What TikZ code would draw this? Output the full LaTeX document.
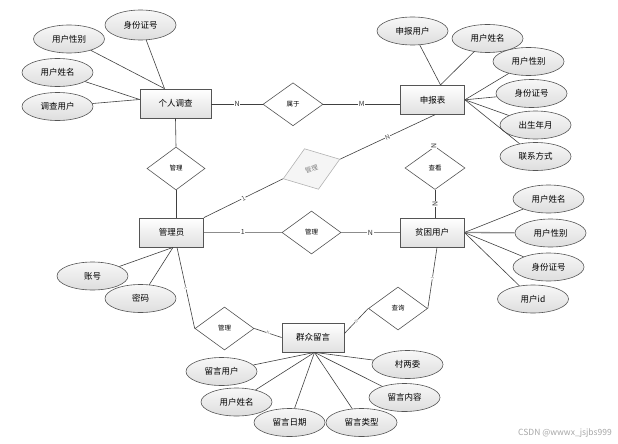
\documentclass[tikz,border=0pt]{standalone}
\usepackage{fontspec}
\setmainfont{Noto Sans CJK SC}
\usetikzlibrary{shapes.geometric,calc}
\definecolor{edge}{HTML}{555555}
\tikzset{
  ent/.style={draw=edge, line width=0.8pt, top color=white, bottom color=black!12,
    minimum width=64pt, minimum height=29pt, inner sep=0pt, font=\fontsize{8.5}{9}\selectfont},
  attr/.style={ellipse, draw=edge, line width=0.6pt, top color=black!3, bottom color=black!13,
    minimum width=71pt, minimum height=28pt, inner sep=0pt, font=\fontsize{8.5}{9}\selectfont},
  rel/.style={diamond, draw=edge, line width=0.6pt, fill=white,
    minimum width=60pt, minimum height=43pt, inner sep=0pt, font=\fontsize{6.5}{7}\selectfont},
  grel/.style={rel, draw=black!30, fill=black!4, text=black!50},
  ln/.style={draw=black!75, line width=0.6pt},
  thk/.style={draw=black!45, line width=1.3pt},
  card/.style={fill=white, inner sep=0.6pt, font=\fontsize{7}{7}\selectfont, text=black!80},
  tcard/.style={fill=white, inner sep=0.3pt, font=\fontsize{4}{4}\selectfont, text=black!50, sloped},
  gcard/.style={fill=white, inner sep=0.5pt, font=\fontsize{6.5}{7}\selectfont, text=black!70, sloped},
}
\begin{document}
\begin{tikzpicture}[x=1pt,y=-1pt]
\useasboundingbox (0,0) rectangle (618,444);
% entities
\node[ent, minimum width=71pt] (gr) at (175.5,103.5) {个人调查};
\node[ent] (sb) at (432.5,99.8) {申报表};
\node[ent] (gly) at (171.5,232.5) {管理员};
\node[ent] (pk) at (432,232.5) {贫困用户};
\node[ent, minimum width=62pt] (qz) at (313,337.5) {群众留言};
% relationships
\node[rel] (sy) at (293,104.3) {属于};
\node[rel, minimum width=58pt] (gl1) at (176,168.5) {管理};
\node[rel] (ck) at (435,168) {查看};
\node[rel, minimum width=59pt] (gl2) at (311.5,232.5) {管理};
\node[rel, minimum width=59pt] (gl3) at (224.5,328.5) {管理};
\node[rel, minimum width=59pt] (cx) at (398,308.5) {查询};
\node[grel, rotate=19] (gd) at (311.5,169) {管理};
% attributes of 个人调查
\node[attr] (a1) at (69,39) {用户性别};
\node[attr, minimum height=30pt] (a2) at (140.5,25) {身份证号};
\node[attr] (a3) at (57.5,72.5) {用户姓名};
\node[attr] (a4) at (57.5,106.5) {调查用户};
% attributes of 申报表
\node[attr] (b1) at (412.5,31) {申报用户};
\node[attr] (b2) at (487.5,38.5) {用户姓名};
\node[attr] (b3) at (528.5,61.5) {用户性别};
\node[attr] (b4) at (531.5,93.5) {身份证号};
\node[attr] (b5) at (535.5,125) {出生年月};
\node[attr] (b6) at (535.5,156.5) {联系方式};
% attributes of 贫困用户
\node[attr] (c1) at (548.5,199) {用户姓名};
\node[attr] (c2) at (550.5,233) {用户性别};
\node[attr] (c3) at (548.5,267) {身份证号};
\node[attr] (c4) at (533,299) {用户id};
% attributes of 管理员
\node[attr] (d1) at (92.5,276) {账号};
\node[attr] (d2) at (140.5,298.5) {密码};
% attributes of 群众留言
\node[attr] (e1) at (221.5,371.5) {留言用户};
\node[attr] (e2) at (236.5,402) {用户姓名};
\node[attr] (e3) at (289.5,422.5) {留言日期};
\node[attr] (e4) at (361.5,422.5) {留言类型};
\node[attr] (e5) at (404.5,397.5) {留言内容};
\node[attr] (e6) at (407.5,364.5) {村两委};
% anchor points on entities
\coordinate (grT) at ($(gr.north)+(-11,0)$);
\coordinate (grL) at ($(gr.west)+(0,-4)$);
\coordinate (sbT) at ($(sb.north)+(8,0)$);
\coordinate (sbR) at (sb.east);
\coordinate (pkR) at (pk.east);
\coordinate (glyB) at ($(gly.south)+(1.5,0)$);
\coordinate (qzB) at ($(qz.south)+(1.5,0)$);
% attribute lines
\draw[ln] (a1) -- (grT);
\draw[ln] (a2) -- (grT);
\draw[ln] (a3) -- (grL);
\draw[ln] (a4) -- (grL);
\draw[ln] (b1) -- (sbT);
\draw[ln] (b2) -- (sbT);
\draw[ln] (b3) -- (sbR);
\draw[ln] (b4) -- (sbR);
\draw[ln] (b5) -- (sbR);
\draw[ln] (b6) -- (sbR);
\draw[ln] (c1) -- (pkR);
\draw[thk] (c2) -- (pkR);
\draw[ln] (c3) -- (pkR);
\draw[ln] (c4) -- (pkR);
\draw[ln] (d1) -- (glyB);
\draw[ln] (d2) -- (glyB);
\draw[ln] (e1) -- (qzB);
\draw[ln] (e2) -- (qzB);
\draw[ln] (e3) -- (qzB);
\draw[ln] (e4) -- (qzB);
\draw[ln] (e5) -- (qzB);
\draw[ln] (e6) -- (qzB);
% relationship lines
\draw[ln] (gr.east |- sy.west) -- node[card]{N} (sy.west);
\draw[ln] (sy.east) -- node[card]{M} (sy.east -| sb.west);
\draw[ln] (gr.south) -- (gl1.north);
\draw[ln] (gl1.south) -- (gly.north -| gl1.south);
\draw[ln] (ck.north -| sb.south) -- node[card, rotate=90]{N} (ck.north);
\draw[ln] (ck.south) -- node[card, rotate=90]{N} (ck.south |- pk.north);
\draw[thk] (gly.east) -- node[card]{1} (gl2.west);
\draw[thk] (gl2.east) -- node[card]{N} (pk.west);
\draw[ln] (gly.north east) -- node[gcard]{1} (gd.west);
\draw[ln] (gd.east) -- node[gcard]{N} ($(sb.south)+(2.5,0)$);
\draw[ln] ($(gly.south)+(5.5,0)$) -- node[tcard]{1} (gl3.west);
\draw[ln] (gl3.east) -- node[tcard]{N} (qz.west);
\draw[ln] ($(qz.east)+(0,-4)$) -- node[tcard]{N} (cx.west);
\draw[ln] (cx.east) -- node[tcard]{1} ($(pk.south)+(5,0)$);
% watermark
\node[anchor=east, text=black!35, font=\fontsize{8.5}{9}\selectfont, inner sep=0pt] (wm) at (612,433) {CSDN @wwwx\_jsjbs999};
\end{tikzpicture}
\end{document}
